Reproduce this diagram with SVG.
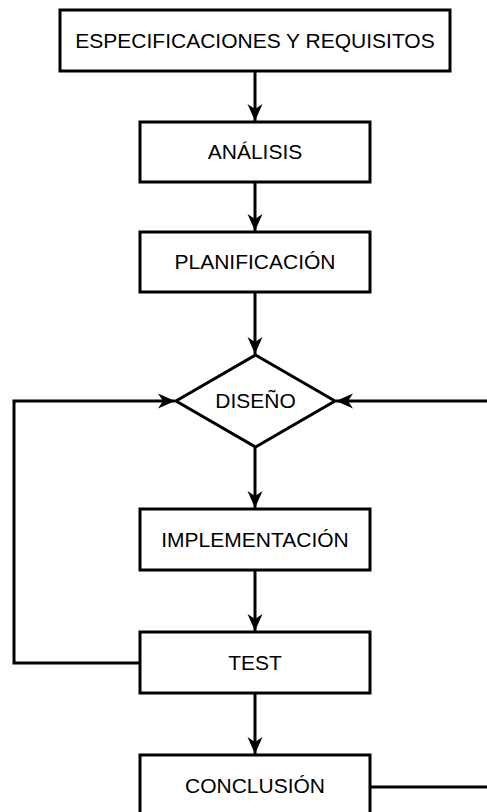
<svg xmlns="http://www.w3.org/2000/svg" width="487" height="812" viewBox="0 0 487 812">
<style>
.box{fill:#fff;stroke:#000;stroke-width:3}
.lbl{font-family:"Liberation Sans",Arial,sans-serif;font-size:21px;fill:#000;text-anchor:middle}
.edge{fill:none;stroke:#000;stroke-width:3}
</style>
<defs>
<marker id="arr" markerUnits="userSpaceOnUse" markerWidth="20" markerHeight="20" viewBox="-18 -9 20 18" refX="0" refY="0" orient="auto">
<path d="M0,0 L-17,-7.5 L-12,0 L-17,7.5 Z" fill="#000"/>
</marker>
</defs>
<rect width="487" height="812" fill="#fff"/>
<g id="connectors">
<path class="edge" d="M255,71 V121" marker-end="url(#arr)"/>
<path class="edge" d="M255,182 V231" marker-end="url(#arr)"/>
<path class="edge" d="M255,292 V354" marker-end="url(#arr)"/>
<path class="edge" d="M255,447 V508" marker-end="url(#arr)"/>
<path class="edge" d="M255,570 V631" marker-end="url(#arr)"/>
<path class="edge" d="M255,693 V754" marker-end="url(#arr)"/>
<path class="edge" d="M140,663 H14 V401 H175" marker-end="url(#arr)"/>
<path class="edge" d="M370,787 H495 V401 H336" marker-end="url(#arr)"/>
</g>
<g id="n1"><rect class="box" x="60" y="10" width="390" height="61"/><text class="lbl" x="255" y="48">ESPECIFICACIONES Y REQUISITOS</text></g>
<g id="n2"><rect class="box" x="140" y="122" width="230" height="60"/><text class="lbl" x="255" y="159">ANÁLISIS</text></g>
<g id="n3"><rect class="box" x="140" y="232" width="230" height="60"/><text class="lbl" x="255" y="269">PLANIFICACIÓN</text></g>
<g id="n4"><polygon class="box" points="255.5,355 335,401 255.5,447 176,401"/><text class="lbl" x="255.5" y="408">DISEÑO</text></g>
<g id="n5"><rect class="box" x="140" y="509" width="230" height="61"/><text class="lbl" x="255" y="547">IMPLEMENTACIÓN</text></g>
<g id="n6"><rect class="box" x="140" y="632" width="230" height="61"/><text class="lbl" x="255" y="670">TEST</text></g>
<g id="n7"><rect class="box" x="140" y="755" width="230" height="62"/><text class="lbl" x="255" y="793">CONCLUSIÓN</text></g>
</svg>
